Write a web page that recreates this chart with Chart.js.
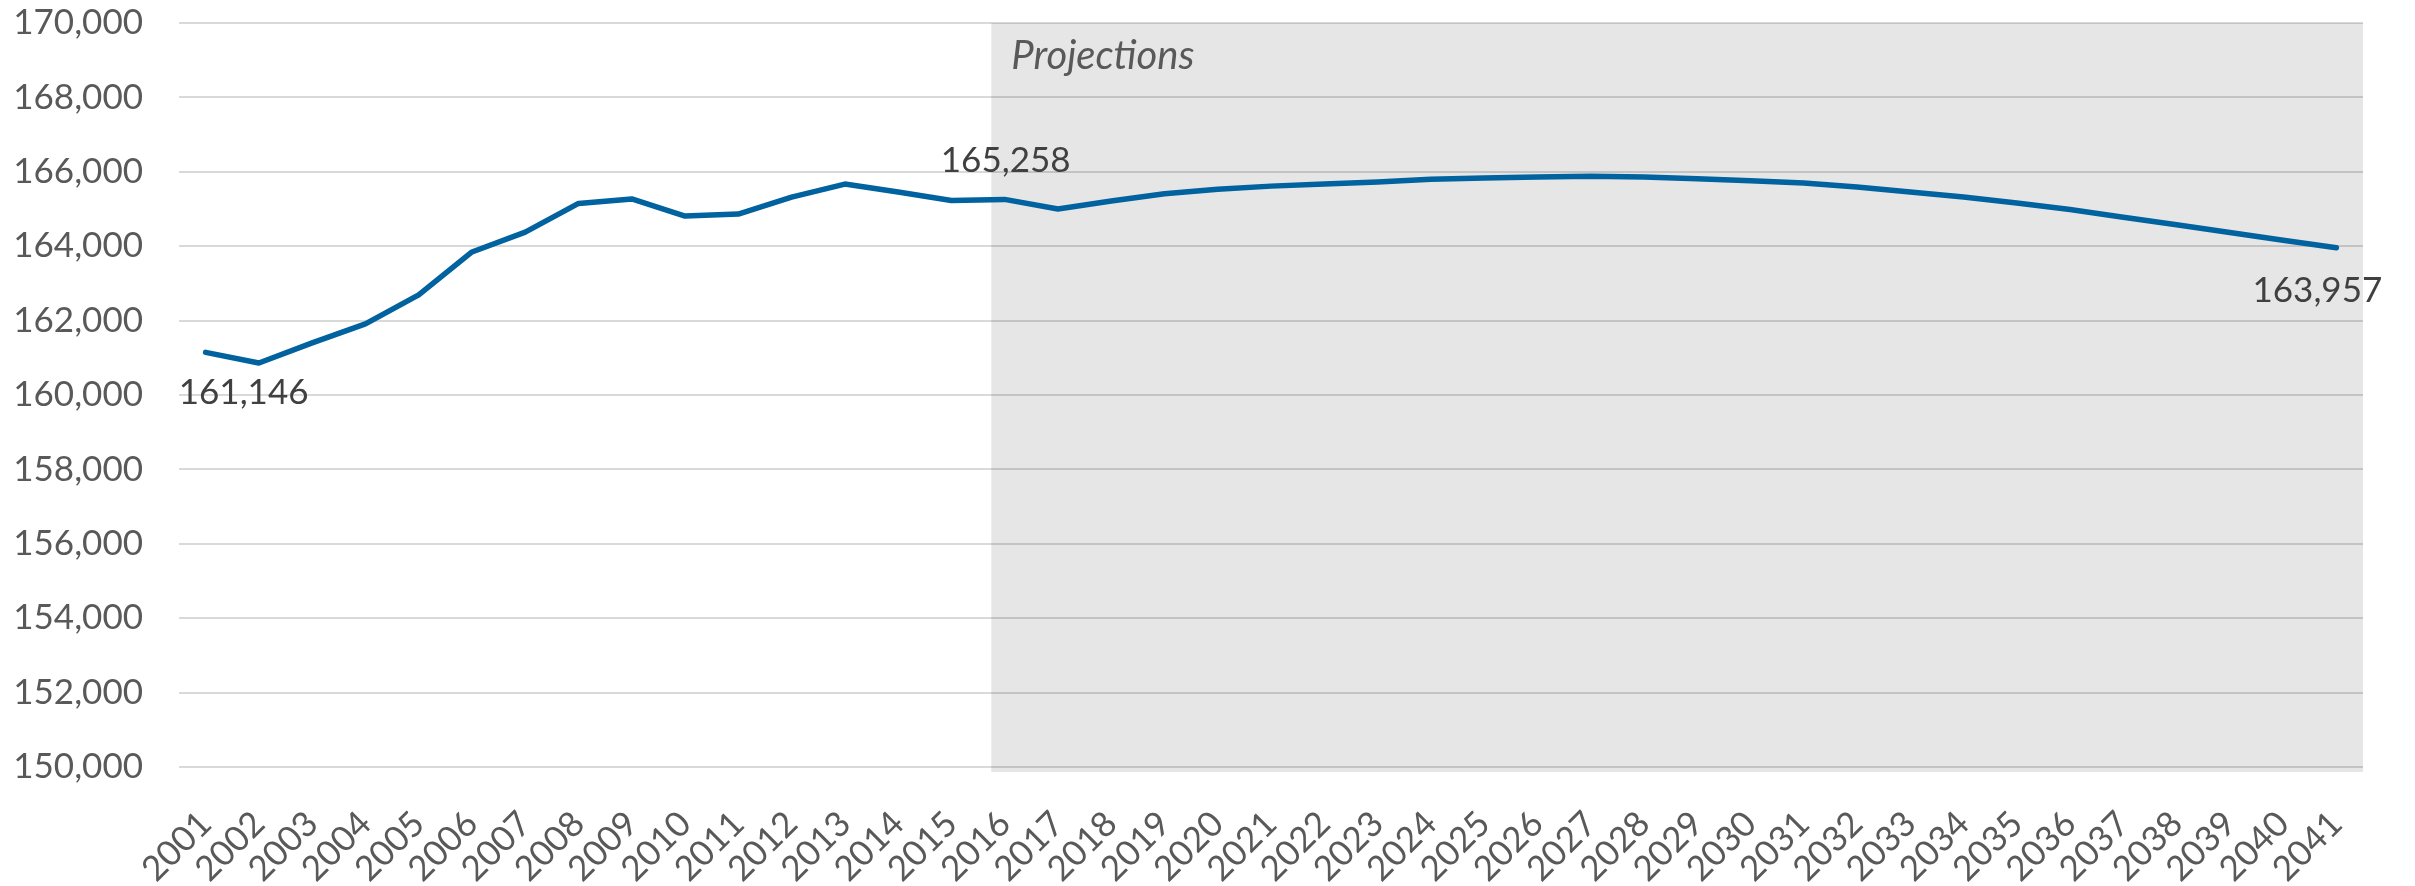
<!DOCTYPE html>
<html>
<head>
<meta charset="utf-8">
<script src="https://cdn.jsdelivr.net/npm/chart.js@4.4.1/dist/chart.umd.min.js"></script>
<style>
  html, body { margin: 0; padding: 0; background: #fff; }
  #wrap { width: 2415px; height: 886px; position: relative; }
</style>
</head>
<body>
<div id="wrap"><canvas id="chart"></canvas></div>
<script>
const years = [
  "2001","2002","2003","2004","2005","2006","2007","2008","2009","2010",
  "2011","2012","2013","2014","2015","2016","2017","2018","2019","2020",
  "2021","2022","2023","2024","2025","2026","2027","2028","2029","2030",
  "2031","2032","2033","2034","2035","2036","2037","2038","2039","2040","2041"
];

const population = [
  161146, 160860, 161400, 161910, 162690, 163845, 164380, 165150, 165270, 164810,
  164865, 165320, 165670, 165455, 165230, 165258, 165000, 165215, 165410, 165530,
  165615, 165670, 165725, 165800, 165835, 165860, 165880, 165860, 165815, 165760,
  165700, 165590, 165455, 165320, 165160, 164985, 164780, 164575, 164370, 164160, 163957
];

const yTicks = [150000, 152000, 154000, 156000, 158000, 160000, 162000, 164000, 166000, 168000, 170000];

// first projected year and the years that get a value label
const projectionStart = "2016";
const labelledYears = ["2001", "2016", "2041"];

const FONT = "'Century Gothic', Lato, sans-serif";

const fmt = (v) => v.toLocaleString("en-US");

// grey "Projections" band behind the grid
const projectionBand = {
  id: "projectionBand",
  beforeDraw(chart) {
    const { ctx, chartArea, scales } = chart;
    const x = scales.x;
    const i = years.indexOf(projectionStart);
    const band = (x.getPixelForValue(1) - x.getPixelForValue(0));
    const left = x.getPixelForValue(i) - band / 4;
    ctx.save();
    ctx.fillStyle = "#e6e6e6";
    ctx.fillRect(left, chartArea.top, chartArea.right - left, chartArea.bottom - chartArea.top + 5);
    ctx.font = "italic 40px " + FONT;
    ctx.fillStyle = "#595959";
    ctx.textAlign = "left";
    ctx.textBaseline = "alphabetic";
    ctx.fillText("Projections", left + 20, chartArea.top + 46);
    ctx.restore();
  }
};

// value labels at start, last actual and last projected year
const valueLabels = {
  id: "valueLabels",
  afterDatasetsDraw(chart) {
    const { ctx } = chart;
    const meta = chart.getDatasetMeta(0);
    const offsets = { "2001": [38, 40], "2016": [1, -39], "2041": [-19, 43] };
    ctx.save();
    ctx.font = "35px " + FONT;
    ctx.fillStyle = "#404040";
    ctx.textAlign = "center";
    ctx.textBaseline = "middle";
    labelledYears.forEach((yr) => {
      const i = years.indexOf(yr);
      const pt = meta.data[i];
      const [dx, dy] = offsets[yr];
      ctx.fillText(fmt(population[i]), pt.x + dx, pt.y + dy);
    });
    ctx.restore();
  }
};

new Chart(document.getElementById("chart"), {
  type: "line",
  data: {
    labels: years,
    datasets: [
      {
        label: "Population",
        data: population,
        borderColor: "#00629f",
        borderWidth: 5.5,
        pointRadius: 0,
        tension: 0,
        fill: false,
        borderCapStyle: "round",
        borderJoinStyle: "round",
      },
    ],
  },
  options: {
    responsive: true,
    maintainAspectRatio: false,
    devicePixelRatio: 1,
    animation: false,
    layout: { padding: { top: 23, right: 52, left: 0, bottom: 0 } },
    plugins: {
      legend: { display: false },
      tooltip: { enabled: false },
    },
    scales: {
      x: {
        offset: true,
        grid: { display: false, drawTicks: false },
        border: { display: false },
        ticks: {
          autoSkip: false,
          minRotation: 45,
          maxRotation: 45,
          padding: 36,
          color: "#595959",
          font: { family: FONT, size: 35 },
        },
        afterFit(scale) { scale.height = 119; },
      },
      y: {
        min: yTicks[0],
        max: yTicks[yTicks.length - 1],
        afterBuildTicks(scale) { scale.ticks = yTicks.map((v) => ({ value: v })); },
        grid: {
          color: "rgba(0,0,0,0.15)",
          lineWidth: 2,
          drawTicks: true,
          tickLength: 36,
          tickColor: "rgba(0,0,0,0)",
        },
        border: { display: false },
        ticks: {
          padding: 0,
          color: "#595959",
          font: { family: FONT, size: 35 },
          callback: (v) => fmt(v),
        },
        afterFit(scale) { scale.width = 179; },
      },
    },
  },
  plugins: [projectionBand, valueLabels],
});
</script>
</body>
</html>
